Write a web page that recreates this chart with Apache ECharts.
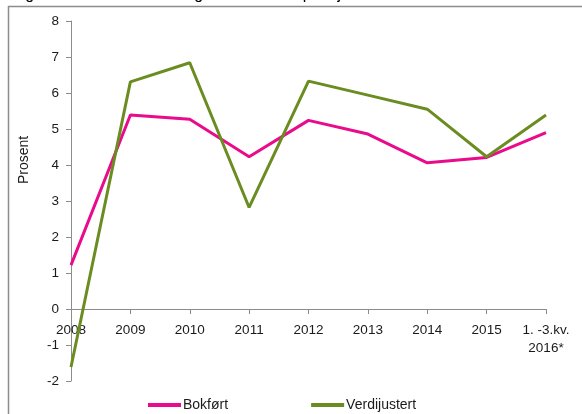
<!DOCTYPE html>
<html>
<head>
<meta charset="utf-8">
<script src="https://cdn.jsdelivr.net/npm/echarts@6/dist/echarts.min.js"></script>
<style>
  html, body { margin: 0; padding: 0; background: #ffffff; }
  #chart { width: 582px; height: 414px; }
</style>
</head>
<body>
<div id="chart"></div>
<script>
// Categories along the x axis
const categories = ['2008', '2009', '2010', '2011', '2012', '2013', '2014', '2015', '1. -3.kv.\n2016*'];

// Return in percent
const bokfort = [1.22, 5.39, 5.27, 4.23, 5.24, 4.86, 4.06, 4.21, 4.90];
const verdijustert = [-1.61, 6.31, 6.84, 2.82, 6.33, 5.94, 5.55, 4.23, 5.39];

// Y axis range
const yMin = -2;
const yMax = 8;
const yStep = 1;

const seriesNames = ['Bokført', 'Verdijustert'];
const colors = ['#EA0A8C', '#6B8C21'];

const gridTop = 21;
const gridBottom = 33;
const chartHeight = 414;

// The category axis sits on the zero line: shift it up from the grid bottom
const plotHeight = chartHeight - gridTop - gridBottom;
const zeroOffset = -plotHeight * (0 - yMin) / (yMax - yMin);

const chart = echarts.init(document.getElementById('chart'), null, { renderer: 'canvas' });

const fontFamily = 'Arial, "Liberation Sans", sans-serif';

chart.setOption({
  animation: false,
  backgroundColor: '#ffffff',
  graphic: [
    {
      type: 'text',
      left: 12,
      top: -13,
      style: {
        text: 'Figur 3. Bokført avkastning i kommunale pensjonskasser',
        font: '16px ' + fontFamily,
        fill: '#000000'
      },
      z: 1
    },
    {
      type: 'rect',
      shape: { x: 8.5, y: 6.5, width: 600, height: 440 },
      style: { fill: 'none', stroke: '#8c8c8c', lineWidth: 1.5 },
      z: 2,
      silent: true
    }
  ],
  grid: {
    left: 71,
    right: 36,
    top: gridTop,
    bottom: gridBottom,
    containLabel: false,
    outerBoundsMode: 'none'
  },
  legend: {
    data: seriesNames,
    left: 143,
    top: 393,
    icon: 'rect',
    itemWidth: 33,
    itemHeight: 4,
    itemGap: 83,
    textStyle: {
      fontFamily: fontFamily,
      fontSize: 14,
      color: '#1a1a1a',
      padding: [0, 0, 0, -3]
    }
  },
  xAxis: {
    type: 'category',
    data: categories,
    boundaryGap: false,
    position: 'bottom',
    offset: zeroOffset,
    axisLine: { onZero: false, lineStyle: { color: '#8c8c8c', width: 1 } },
    axisTick: { show: true, inside: false, length: 5, alignWithLabel: true, lineStyle: { color: '#8c8c8c' } },
    axisLabel: {
      interval: 0,
      margin: 12,
      fontFamily: fontFamily,
      fontSize: 13.5,
      color: '#1a1a1a',
      lineHeight: 18,
      align: 'center'
    },
    splitLine: { show: false }
  },
  yAxis: {
    type: 'value',
    min: yMin,
    max: yMax,
    interval: yStep,
    name: 'Prosent',
    nameLocation: 'middle',
    nameRotate: 90,
    nameGap: 40,
    nameTextStyle: {
      fontFamily: fontFamily,
      fontSize: 14,
      color: '#1a1a1a',
      padding: [0, 0, 0, 82]
    },
    axisLine: { show: true, lineStyle: { color: '#8c8c8c', width: 1 } },
    axisTick: { show: true, inside: false, length: 5, lineStyle: { color: '#8c8c8c' } },
    axisLabel: {
      margin: 12,
      fontFamily: fontFamily,
      fontSize: 13.5,
      color: '#1a1a1a'
    },
    splitLine: { show: false }
  },
  series: [
    {
      name: seriesNames[0],
      type: 'line',
      data: bokfort,
      showSymbol: false,
      symbol: 'none',
      lineStyle: { color: colors[0], width: 3 },
      itemStyle: { color: colors[0] },
      z: 3
    },
    {
      name: seriesNames[1],
      type: 'line',
      data: verdijustert,
      showSymbol: false,
      symbol: 'none',
      lineStyle: { color: colors[1], width: 3 },
      itemStyle: { color: colors[1] },
      z: 4
    }
  ]
});
</script>
</body>
</html>
